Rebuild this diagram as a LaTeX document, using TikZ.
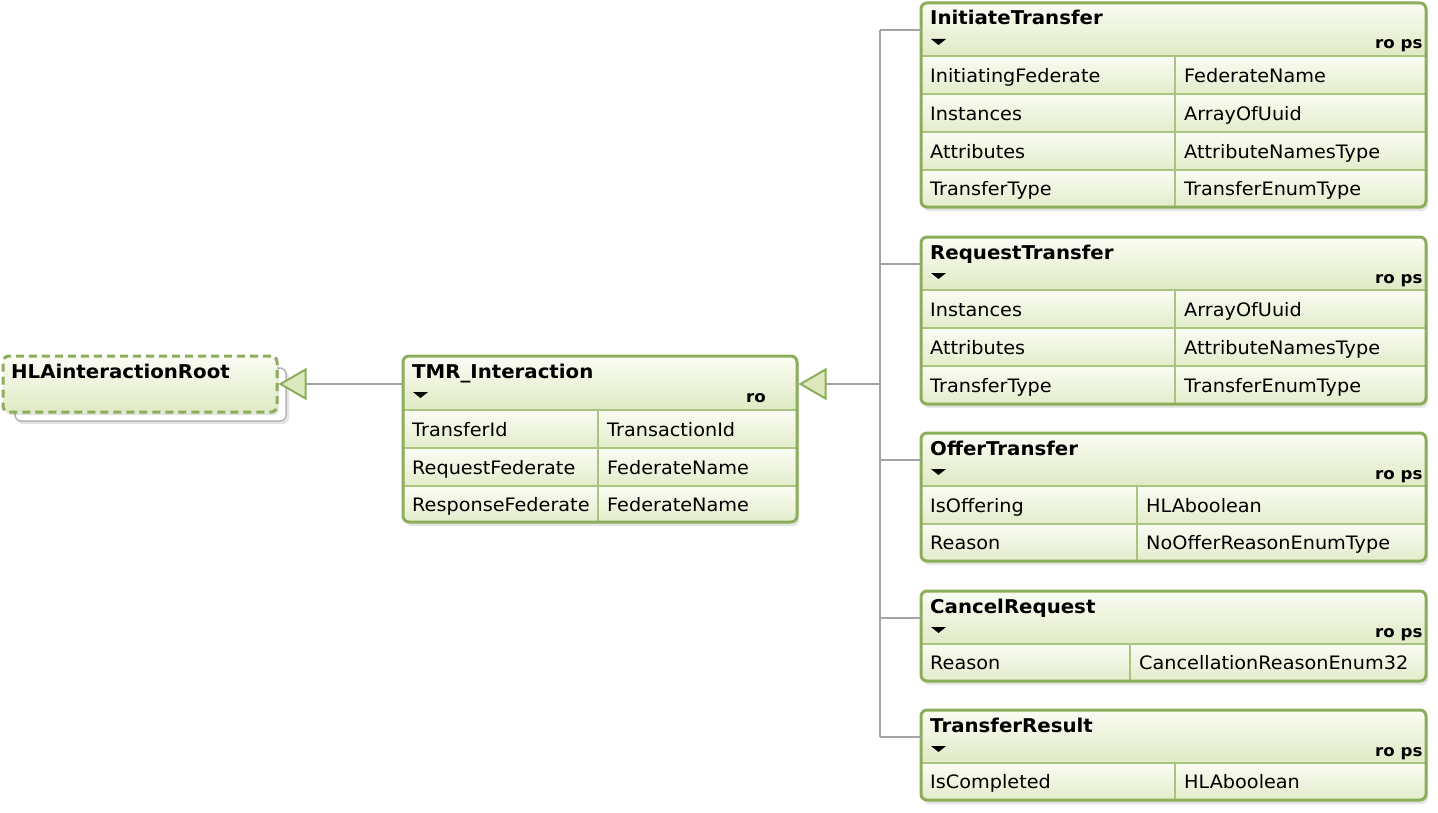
\documentclass[tikz,border=0pt]{standalone}
\usepackage{fontspec}
\setmainfont{DejaVu Sans}[FakeStretch=1.04]
\usetikzlibrary{arrows.meta,fit}
\definecolor{bord}{HTML}{8CAD5A}
\definecolor{sepc}{HTML}{A9C47F}
\definecolor{topc}{HTML}{FAFCF4}
\definecolor{hdrc}{HTML}{E0EAC4}
\definecolor{rowc}{HTML}{E3ECCA}
\definecolor{trifill}{HTML}{DCE9BE}
\definecolor{connc}{HTML}{A3A3A3}
\definecolor{graybox}{HTML}{B5B5B5}
\tikzset{
  umlbox/.style={draw=bord, line width=3bp, rounded corners=6bp, inner sep=0pt},
  sepline/.style={draw=sepc, line width=1.5bp},
  rowtext/.style={anchor=base west, inner sep=0pt, font=\fontsize{18.5bp}{22bp}\selectfont},
  titletext/.style={anchor=base west, inner sep=0pt, font=\fontsize{19bp}{22bp}\selectfont\bfseries},
  flagtext/.style={anchor=base west, inner sep=0pt, font=\fontsize{16bp}{19bp}\selectfont\bfseries},
  conn/.style={draw=connc, line width=1.5bp},
  gen/.style={-{Triangle[length=28bp,width=32bp,color=bord,fill=trifill,line width=2bp]}},
  shadowbox/.style={fill=black, opacity=0.10, rounded corners=6bp},
}
\newcommand\umlclass[9]{%
  \fill[shadowbox] ({#2+2},{#3+4}) rectangle ({#4+2},{#5+4});
  \begin{scope}
    \clip[rounded corners=6bp] (#2,#3) rectangle (#4,#5);
    \shade[top color=topc, bottom color=hdrc] (#2,#3) rectangle (#4,{#3+53});
    \foreach \ya/\yb/\ca/\cb in {#9}{%
      \shade[top color=topc, bottom color=rowc] (#2,\ya) rectangle (#4,\yb);
      \draw[sepline] (#2,\ya) -- (#4,\ya);
      \draw[sepline] (#8,\ya) -- (#8,\yb);
      \node[rowtext] at ({#2+9},{(\ya+\yb)/2+7}) {\ca};
      \node[rowtext] at ({#8+9},{(\ya+\yb)/2+7}) {\cb};
    }
  \end{scope}
  \coordinate (#1-nw) at (#2,#3);
  \coordinate (#1-se) at (#4,#5);
  \node[umlbox, fit=(#1-nw)(#1-se)] (#1) {};
  \node[titletext] (#1-title) at ({#2+9},{#3+22}) {#6};
  \node[flagtext] (#1-flags) at ({#4-51},{#3+46}) {#7};
  \fill ({#2+10},{#3+36}) -- ({#2+25},{#3+36}) -- ({#2+17.5},{#3+42}) -- cycle;
  \coordinate (#1-port) at (#2,{#3+27});
}
\begin{document}
\begin{tikzpicture}[x=1bp,y=-1bp]
\useasboundingbox (0,0) rectangle (1438,812);

% HLAinteractionRoot
\fill[shadowbox] (17,371) rectangle (289,424);
\draw[draw=graybox, fill=white, line width=1.5bp, rounded corners=6bp] (15,368) rectangle (286,421);
\fill[shadowbox] (5,359) rectangle (279,415);
\shade[top color=topc, bottom color=hdrc, rounded corners=6bp] (3,356) rectangle (277,412);
\coordinate (hla-nw) at (3,356);
\coordinate (hla-se) at (277,412);
\node[umlbox, dash pattern=on 8bp off 5bp, fit=(hla-nw)(hla-se)] (hla) {};
\node[titletext] (hla-title) at (11,378) {HLAinteractionRoot};

% TMR_Interaction
\umlclass{tmr}{403}{356}{797}{522}{TMR\_Interaction}{ro}{598}%
  {410/448/TransferId/TransactionId, 448/486/RequestFederate/FederateName, 486/522/ResponseFederate/FederateName}

% subclasses
\umlclass{it}{921}{3}{1426}{207}{InitiateTransfer}{ro ps}{1175}%
  {56/94/InitiatingFederate/FederateName, 94/132/Instances/ArrayOfUuid, 132/170/Attributes/AttributeNamesType, 170/207/TransferType/TransferEnumType}
\umlclass{rt}{921}{237}{1426}{404}{RequestTransfer}{ro ps}{1175}%
  {290/328/Instances/ArrayOfUuid, 328/366/Attributes/AttributeNamesType, 366/404/TransferType/TransferEnumType}
\umlclass{ot}{921}{433}{1426}{561}{OfferTransfer}{ro ps}{1137}%
  {486/524/IsOffering/HLAboolean, 524/561/Reason/NoOfferReasonEnumType}
\umlclass{cr}{921}{591}{1426}{681}{CancelRequest}{ro ps}{1130}%
  {644/681/Reason/CancellationReasonEnum32}
\umlclass{tr}{921}{710}{1426}{800}{TransferResult}{ro ps}{1175}%
  {763/800/IsCompleted/HLAboolean}

% connectors
\coordinate (bus) at (880,384);
\foreach \n in {it,rt,ot,cr,tr}{\draw[conn] (\n-port) -- (\n-port -| bus);}
\draw[conn] (it-port -| bus) -- (tr-port -| bus);
\draw[conn,gen] (bus) -- (bus -| tmr.east);
\draw[conn,gen] (hla.east -| tmr.west) -- (hla.east);
\end{tikzpicture}
\end{document}
